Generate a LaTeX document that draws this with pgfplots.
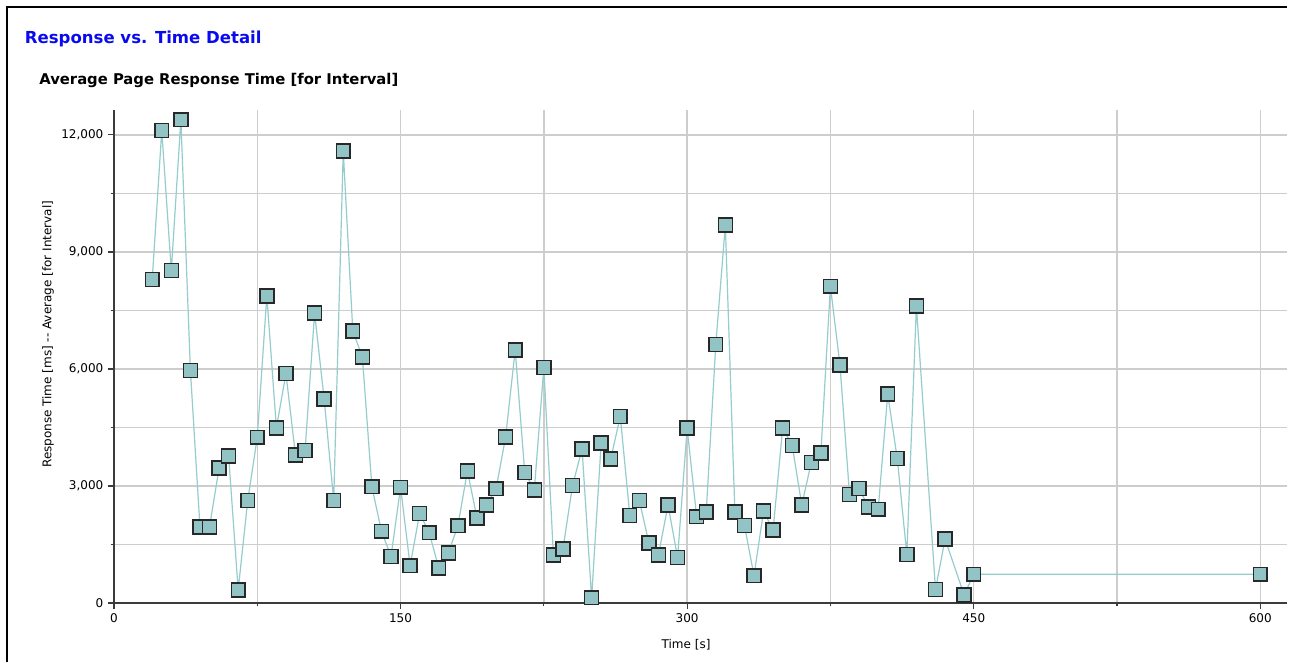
\documentclass[border=0pt]{standalone}
\usepackage{fontspec}
\setmainfont{DejaVu Sans}
\usepackage{pgfplots}
\pgfplotsset{compat=1.18}
\usepackage{pgfplotstable}
\definecolor{mk}{RGB}{147,196,197}
\definecolor{mkedge}{RGB}{40,40,40}
\definecolor{ln}{RGB}{150,204,206}
\definecolor{gr}{RGB}{205,205,205}
\definecolor{axc}{RGB}{60,60,60}
\definecolor{ttl}{RGB}{10,10,240}
\pgfplotstableread{
t y
20 8290
25 12110
30 8520
35 12390
40 5960
45 1950
50 1950
55 3460
60 3770
65 333
70 2630
75 4250
80 7875
85 4490
90 5880
95 3795
100 3910
105 7436
110 5230
115 2630
120 11590
125 6974
130 6310
135 2980
140 1840
145 1195
150 2970
155 955
160 2300
165 1800
170 897
175 1282
180 1980
185 3385
190 2180
195 2513
200 2930
205 4260
210 6487
215 3350
220 2897
225 6040
230 1231
235 1385
240 3010
245 3949
250 135
255 4103
260 3692
265 4785
270 2245
275 2630
280 1535
285 1235
290 2513
295 1165
300 4483
305 2210
310 2330
315 6630
320 9690
325 2330
330 1990
335 700
340 2355
345 1872
350 4483
355 4040
360 2513
365 3605
370 3842
375 8120
380 6103
385 2780
390 2935
395 2458
400 2405
405 5355
410 3700
415 1240
420 7615
430 345
435 1641
445 205
450 738
600 738
}\resp
\begin{document}
\begin{tikzpicture}
\useasboundingbox (0,0) rectangle (968.25pt,496.5pt);
\fill[white] (0,0) rectangle (968.25pt,496.5pt);
\draw[black, line width=1.5pt] (4.9pt,0) -- (4.9pt,491.6pt) -- (965.25pt,491.6pt);
\node[anchor=base west, inner sep=0, text=ttl, font=\bfseries\fontsize{12.4}{14}\selectfont] at (18.5pt,464pt) {Response vs. Time Detail};
\node[anchor=base west, inner sep=0, text=black, font=\bfseries\fontsize{11.1}{13}\selectfont] at (29.3pt,432.75pt) {Average Page Response Time [for Interval]};
\begin{axis}[
  at={(85.5pt,44.25pt)}, anchor=south west,
  scale only axis, width=879.75pt, height=369.75pt,
  xmin=0, xmax=614, ymin=0, ymax=12640,
  axis x line*=bottom, axis y line*=left,
  axis line style={-, draw=axc, line width=1.1pt},
  xtick={0,150,300,450,600}, minor xtick={75,225,375,525},
  ytick={0,3000,6000,9000,12000}, minor ytick={1500,4500,7500,10500},
  scaled y ticks=false, scaled x ticks=false,
  grid=both,
  major grid style={gr, line width=1.1pt},
  minor grid style={gr, line width=1.1pt},
  tick align=outside,
  major tick length=4.5pt, minor tick length=2.5pt,
  tick style={axc, line width=0.8pt},
  tick label style={font=\fontsize{9}{10}\selectfont, text=black},
  /pgf/number format/.cd, 1000 sep={,}, fixed, assume math mode=true,
  /pgfplots/.cd,
  xlabel={Time [s]}, ylabel={Response Time [ms] -{}- Average [for Interval]},
  xlabel style={at={(axis description cs:0.4877,-0.0852)}, anchor=center, font=\fontsize{9}{10}\selectfont},
  ylabel style={at={(axis description cs:-0.0563,0.545)}, anchor=center, font=\fontsize{9}{10}\selectfont},
  clip=false,
]
\addplot[color=ln, line width=0.9pt, mark=square*, mark size=5.2pt,
  mark options={fill=mk, draw=mkedge, line width=1.1pt, solid}] table[x=t, y=y] {\resp};
\end{axis}
\end{tikzpicture}
\end{document}
